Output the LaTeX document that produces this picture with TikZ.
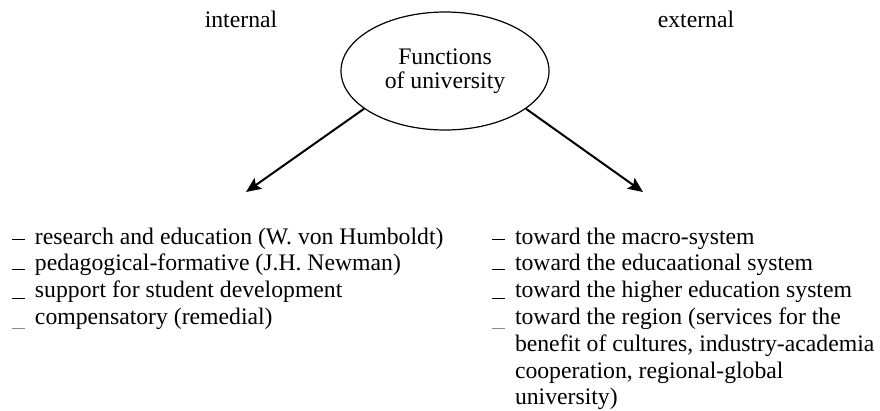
\documentclass[tikz,border=0pt]{standalone}
\usepackage{fontspec}
\setmainfont{Liberation Serif}
\usetikzlibrary{shapes.geometric,arrows.meta}

% list marker: a short rule raised (or lowered) by #2 relative to the baseline
\newcommand{\itemmark}[2][black]{\textcolor{#1}{\rule[#2]{13pt}{1.3pt}}\hspace{10pt}}

\tikzset{
  lbl/.style={font=\fontsize{23.7}{26.8}\selectfont, inner sep=0pt, outer sep=0pt},
  txt/.style={lbl, anchor=base west},
  hub/.style={ellipse, draw, line width=1.2pt, minimum width=208pt, minimum height=118pt,
              inner sep=0pt, align=center, font=\fontsize{23.7}{24}\selectfont},
  branch/.style={line width=2pt, -{Stealth[length=15pt,width=13pt,inset=3pt]}}
}

\begin{document}
\begin{tikzpicture}[x=1pt,y=-1pt]
  \useasboundingbox (0,0) rectangle (880,410);

  % headings
  \node[lbl, anchor=base] (hin) at (241,27) {internal};
  \node[lbl, anchor=base] (hex) at (696,27) {external};

  % central ellipse
  \node[hub] (fn) at (445,71) {Functions\\of university};

  % arrow targets
  \coordinate (lt) at (246,192);
  \coordinate (rt) at (643,192);
  \draw[branch] (fn.205) -- (lt);
  \draw[branch] (fn.335) -- (rt);

  % internal functions
  \node[txt] (i1) at (12,244)   {\itemmark{4.2pt}research and education (W. von Humboldt)};
  \node[txt] (i2) at (12,270.8) {\itemmark{0.6pt}pedagogical-formative (J.H. Newman)};
  \node[txt] (i3) at (12,297.6) {\itemmark{-1.4pt}support for student development};
  \node[txt] (i4) at (12,324.4) {\itemmark[black!45]{-4.6pt}compensatory (remedial)};

  % external functions
  \node[txt] (e1) at (492,244)   {\itemmark{4.2pt}toward the macro-system};
  \node[txt] (e2) at (492,270.8) {\itemmark{0.6pt}toward the educaational system};
  \node[txt] (e3) at (492,297.6) {\itemmark{-1.4pt}toward the higher education system};
  \node[txt] (e4) at (492,324.4) {\itemmark[black!45]{-4.6pt}toward the region (services for the};
  \node[txt] (e4b) at (515,351.2) {benefit of cultures, industry-academia};
  \node[txt] (e4c) at (515,378)   {cooperation, regional-global};
  \node[txt] (e4d) at (515,404.8) {university)};
\end{tikzpicture}
\end{document}
